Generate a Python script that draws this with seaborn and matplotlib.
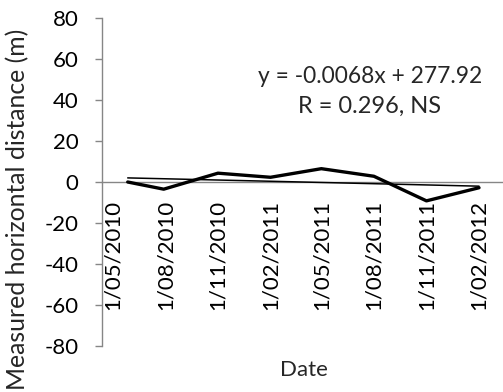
import numpy as np
import pandas as pd
import matplotlib
matplotlib.use("Agg")
import matplotlib.pyplot as plt
import matplotlib.dates as mdates
import seaborn as sns

# Survey dates and measured horizontal distance (m)
survey_dates = ["2010-05-27", "2010-07-29", "2010-11-01", "2011-02-01",
                "2011-05-01", "2011-08-01", "2011-11-01", "2012-02-01"]
distance_m = [0.0, -3.5, 4.3, 2.3, 6.5, 2.8, -9.2, -2.8]

tick_dates = ["2010-05-01", "2010-08-01", "2010-11-01", "2011-02-01",
              "2011-05-01", "2011-08-01", "2011-11-01", "2012-02-01"]
tick_labels = ["1/05/2010", "1/08/2010", "1/11/2010", "1/02/2011",
               "1/05/2011", "1/08/2011", "1/11/2011", "1/02/2012"]
y_ticks = [-80, -60, -40, -20, 0, 20, 40, 60, 80]

equation_text = "y = -0.0068x + 277.92"
r_text = "R = 0.296, NS"

sns.set_style("white")
plt.rcParams["font.family"] = ["Lato", "DejaVu Sans"]
FS_TICK = 16
GREY = "#868686"

df = pd.DataFrame({"date": pd.to_datetime(survey_dates), "distance": distance_m})

# Linear trend of distance against date
xnum = mdates.date2num(df["date"])
slope, intercept = np.polyfit(xnum, df["distance"], 1)
trend = pd.DataFrame({"date": df["date"].iloc[[0, -1]],
                      "distance": slope * xnum[[0, -1]] + intercept})

fig = plt.figure(figsize=(5.03, 3.92), dpi=100)
ax = fig.add_axes([102 / 503, 1 - 346 / 392, 1 - 102 / 503, 328 / 392])

sns.lineplot(data=df, x="date", y="distance", ax=ax, color="black", lw=2.4)
sns.lineplot(data=trend, x="date", y="distance", ax=ax, color="black", lw=1.1)

ax.set_ylim(-80, 80)
ax.set_xlim(pd.Timestamp("2010-04-12"), pd.Timestamp("2012-03-14"))
ax.set_yticks(y_ticks)
ax.set_yticklabels([str(v) for v in y_ticks])
ax.set_xticks(pd.to_datetime(tick_dates))
ax.set_xticklabels(tick_labels)

for s in ["top", "right"]:
    ax.spines[s].set_visible(False)
ax.spines["bottom"].set_position(("data", 0))
ax.spines["bottom"].set_color(GREY)
ax.spines["left"].set_color(GREY)
ax.spines["bottom"].set_linewidth(1.0)
ax.spines["left"].set_linewidth(1.0)
ax.spines["bottom"].set_zorder(0)

ax.tick_params(axis="y", direction="out", length=5, width=1, color=GREY,
               pad=12, left=True, labelcolor="black", labelsize=FS_TICK)
ax.tick_params(axis="x", length=0, pad=13, labelcolor="black",
               labelsize=FS_TICK, labelrotation=90)
ax.set_xlabel("")
ax.set_ylabel("")

fig.text(304 / 503, 1 - 370 / 392, "Date", ha="center", va="center", fontsize=16)
fig.text(18 / 503, 1 - 209 / 392, "Measured horizontal distance (m)",
         rotation=90, ha="center", va="center", fontsize=17.8)
fig.text(370 / 503, 1 - 83 / 392, equation_text, ha="center", va="baseline", fontsize=16.4)
fig.text(370 / 503, 1 - 113 / 392, r_text, ha="center", va="baseline", fontsize=17)

fig.savefig("out.png", dpi=100)
